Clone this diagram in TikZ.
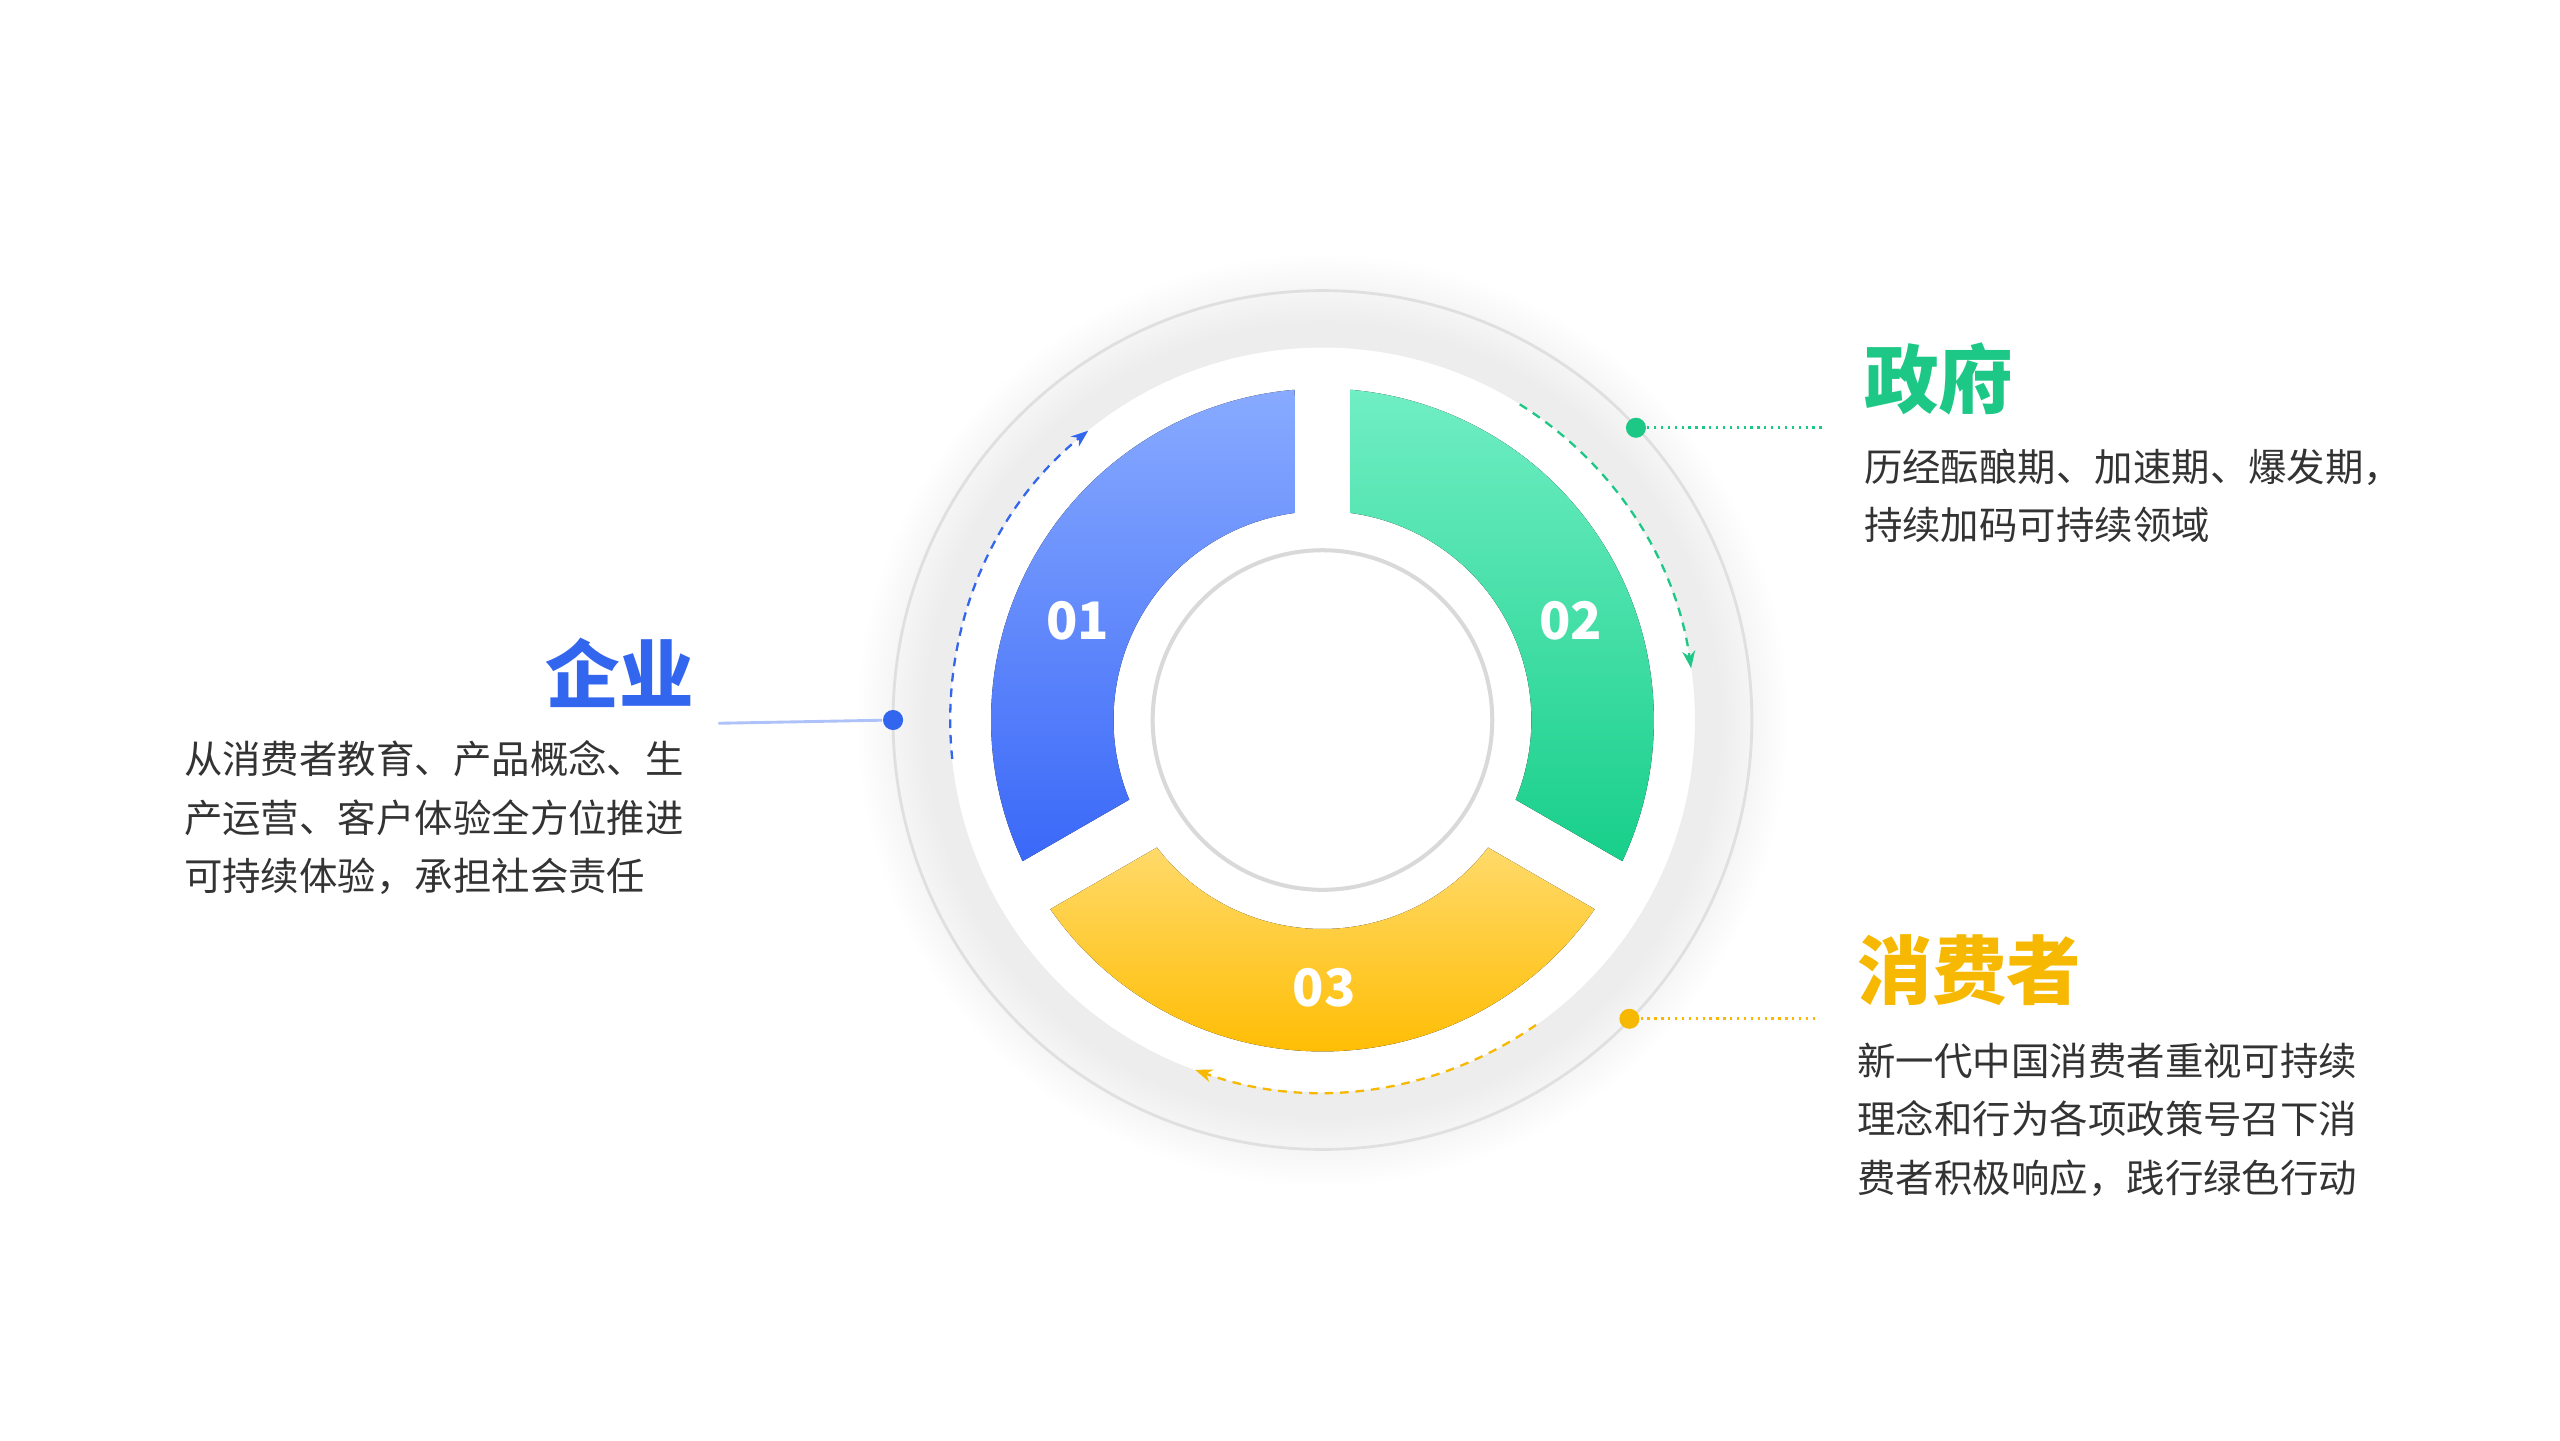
\documentclass[tikz,border=0pt]{standalone}
\usepackage{fontspec}
\setmainfont{Noto Sans CJK SC}
\usetikzlibrary{arrows.meta,shadows}
\definecolor{qyblue}{HTML}{3366EE}
\definecolor{zfgreen}{HTML}{1DC886}
\definecolor{xfyellow}{HTML}{F6B800}
\definecolor{bluetop}{HTML}{88AAFF}
\definecolor{bluebot}{HTML}{3A68F8}
\definecolor{greentop}{HTML}{70EEC4}
\definecolor{greenbot}{HTML}{18CF8A}
\definecolor{yellowtop}{HTML}{FFDA6A}
\definecolor{yellowbot}{HTML}{FFBC00}
\definecolor{bodytext}{HTML}{333333}
\tikzset{
  dot/.style={circle, fill, inner sep=0pt, minimum size=3.5pt},
  num/.style={text=white, font=\fontsize{9}{9}\selectfont\bfseries},
  title/.style={font=\fontsize{13}{13}\selectfont\bfseries, inner sep=0pt},
  body/.style={text=bodytext, font=\fontsize{6.7}{10.2}\selectfont, align=left, inner sep=0pt},
  guide/.style={dash pattern=on 1.5pt off 1.2pt, line width=0.4pt, -{Stealth[length=3pt]}},
  leader/.style={dash pattern=on 0.4pt off 0.8pt, line width=0.5pt}
}
\begin{document}
\begin{tikzpicture}
  \useasboundingbox (0,0) rectangle (15.68,8.82);
  \coordinate (c) at (8.1,4.41);

  % Rings
  \draw[black!18, line width=0.5pt] (c) circle[radius=2.63];
  \fill[white, circular glow={fill=black!7}] (c) circle[radius=2.28];
  \fill[white] (c) circle[radius=2.28];
  \draw[black!15, line width=0.7pt] (c) circle[radius=1.04];

  % Segments
  \fill[top color=bluetop, bottom color=bluebot]
    ([shift={(c)}]94.8:2.03) arc[start angle=94.8, end angle=205.2, radius=2.03]
    -- ([shift={(c)}]202.4:1.28) arc[start angle=202.4, end angle=97.6, radius=1.28] -- cycle;
  \fill[top color=greentop, bottom color=greenbot]
    ([shift={(c)}]-25.2:2.03) arc[start angle=-25.2, end angle=85.2, radius=2.03]
    -- ([shift={(c)}]82.4:1.28) arc[start angle=82.4, end angle=-22.4, radius=1.28] -- cycle;
  \fill[top color=yellowtop, bottom color=yellowbot]
    ([shift={(c)}]214.8:2.03) arc[start angle=214.8, end angle=325.2, radius=2.03]
    -- ([shift={(c)}]322.4:1.28) arc[start angle=322.4, end angle=217.6, radius=1.28] -- cycle;

  % Nodes
  \node[num] (n1) at (6.60,5.02) {01};
  \node[num] (n2) at (9.62,5.02) {02};
  \node[num] (n3) at (8.11,2.77) {03};

  \node[dot, qyblue] (d1) at (5.47,4.41) {};
  \node[dot, zfgreen] (d2) at (10.02,6.20) {};
  \node[dot, xfyellow] (d3) at (9.98,2.58) {};
  \coordinate (e1) at (4.40,4.39);
  \coordinate (e2) at (11.18,6.20);
  \coordinate (e3) at (11.13,2.58);

  \node[title, text=qyblue, anchor=east] (t1) at (4.26,4.70) {企业};
  \node[body, anchor=north west] (p1) at (1.12,4.29)
    {从消费者教育、产品概念、生\\产运营、客户体验全方位推进\\可持续体验，承担社会责任};
  \node[title, text=zfgreen, anchor=west] (t2) at (11.41,6.50) {政府};
  \node[body, anchor=north west] (p2) at (11.41,6.08)
    {历经酝酿期、加速期、爆发期，\\持续加码可持续领域};
  \node[title, text=xfyellow, anchor=west] (t3) at (11.37,2.88) {消费者};
  \node[body, anchor=north west] (p3) at (11.37,2.44)
    {新一代中国消费者重视可持续\\理念和行为各项政策号召下消\\费者积极响应，践行绿色行动};

  % Edges
  \draw[qyblue!40, line width=0.5pt] (d1) -- (e1);
  \draw[zfgreen, leader] (d2) -- (e2);
  \draw[xfyellow, leader] (d3) -- (e3);

  \draw[guide, qyblue] ([shift={(c)}]186:2.28) arc[start angle=186, end angle=129, radius=2.28];
  \draw[guide, zfgreen] ([shift={(c)}]58:2.28) arc[start angle=58, end angle=8, radius=2.28];
  \draw[guide, xfyellow] ([shift={(c)}]-55:2.28) arc[start angle=-55, end angle=-110, radius=2.28];
\end{tikzpicture}
\end{document}
